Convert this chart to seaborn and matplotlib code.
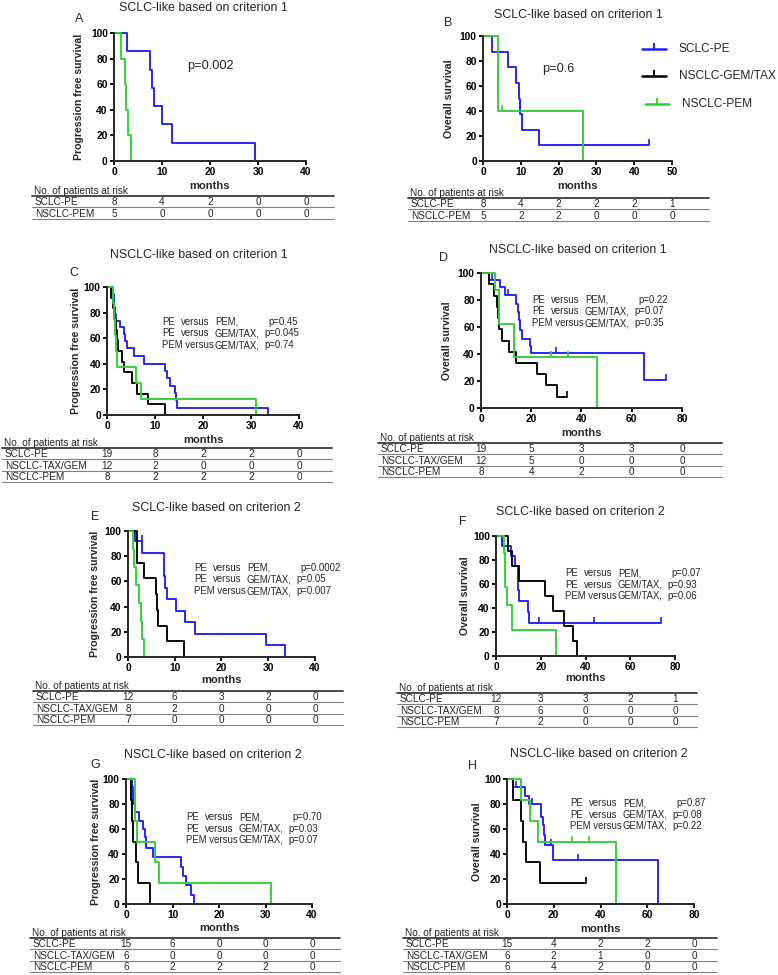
import numpy as np
import pandas as pd
import matplotlib
matplotlib.use('Agg')
import matplotlib.pyplot as plt
import seaborn as sns

# ---------------- data ----------------
# Panel A (PFS, SCLC-like criterion 1)
A_pe_t = [0, 2.7, 7.5, 7.9, 8.3, 10.1, 12.0, 29.4]
A_pe_s = [100, 85.7, 71.4, 57.1, 42.9, 28.6, 14.3, 0]
A_pem_t = [0, 1.4, 2.2, 2.4, 3.0, 3.5]
A_pem_s = [100, 80, 60, 40, 20, 0]

# Panel B (OS, SCLC-like criterion 1)
B_pe_t = [0, 2.5, 6.5, 8.6, 9.5, 9.8, 10.3, 14.8, 43.8]
B_pe_s = [100, 87.5, 75, 62.5, 50, 37.5, 25, 12.5, 12.5]
B_pe_ct = [43.8]; B_pe_cs = [12.5]
B_pem_t = [0, 3.9, 4.1, 26.5]
B_pem_s = [100, 80, 40, 0]
B_pem_ct = [5.0]; B_pem_cs = [40]

# Panel C (PFS, NSCLC-like criterion 1)
C_pe_t = [0, 1.2, 1.4, 1.5, 1.6, 1.8, 2.7, 3.5, 3.8, 4.2, 5.7, 7.8, 12.0, 12.4, 13.2, 14.1, 14.3, 14.5, 33.6]
C_pe_s = [100, 94.7, 89.5, 84.2, 78.9, 73.7, 68.4, 63.2, 57.9, 52.6, 46.0, 40.0, 34.5, 29.0, 23.0, 17.3, 11.5, 5.8, 0]
C_gem_t = [0, 0.9, 1.2, 1.5, 1.8, 2.0, 2.3, 3.2, 3.5, 5.2, 6.3, 8.5, 12.0]
C_gem_s = [100, 91.7, 83.3, 75, 66.7, 58.3, 50, 41.7, 33.3, 25, 16.7, 8.3, 0]
C_pem_t = [0, 1.2, 1.5, 1.7, 1.8, 2.0, 6.1, 7.0, 31.0]
C_pem_s = [100, 87.5, 75, 62.5, 50, 37.5, 25, 12.5, 0]

# Panel D (OS, NSCLC-like criterion 1)
D_pe_t = [0, 3.0, 7.6, 9.4, 14.1, 14.6, 15.2, 15.6, 16.2, 19.4, 20.0, 64.9, 73.5]
D_pe_s = [100, 94.7, 89.5, 83.5, 77.0, 71.0, 65.0, 58.0, 51.0, 45.6, 41.0, 20.5, 20.5]
D_pe_ct = [4.5, 10.6, 30.0, 73.5]; D_pe_cs = [94.7, 83.5, 41.0, 20.5]
D_gem_t = [0, 3.0, 5.0, 6.5, 6.9, 7.2, 8.4, 11.0, 14.1, 22.4, 25.7, 30.2, 34.2]
D_gem_s = [100, 91.7, 83.3, 75, 66.7, 58.3, 50, 41.7, 33.3, 25, 16.7, 8.3, 8.3]
D_gem_ct = [34.2]; D_gem_cs = [8.3]
D_pem_t = [0, 5.4, 7.0, 13.3, 46.2]
D_pem_s = [100, 87.5, 62.5, 37.5, 0]
D_pem_ct = [28.0, 34.6]; D_pem_cs = [37.5, 37.5]

# Panel E (PFS, SCLC-like criterion 2)
E_pe_t = [0, 1.4, 3.1, 7.6, 8.0, 8.4, 10.2, 12.1, 14.4, 29.5, 33.6]
E_pe_s = [100, 91.7, 82.5, 64.2, 55.0, 45.8, 36.7, 27.5, 18.3, 9.2, 0]
E_pe_ct = [2.9]; E_pe_cs = [91.7]
E_gem_t = [0, 1.9, 3.5, 5.9, 6.2, 6.4, 8.4, 12.0]
E_gem_s = [100, 75, 62.5, 50, 37.5, 25, 12.5, 0]
E_pem_t = [0, 1.0, 1.3, 1.7, 2.3, 2.7, 3.1, 3.5]
E_pem_s = [100, 85.7, 71.4, 57.1, 42.9, 28.6, 14.3, 0]

# Panel F (OS, SCLC-like criterion 2)
F_pe_t = [0, 2.5, 6.5, 8.5, 9.8, 10.4, 14.1, 14.9, 73.6]
F_pe_s = [100, 91.7, 83.3, 75, 55, 45.8, 36.7, 27.5, 27.5]
F_pe_ct = [19.0, 44.0, 73.6]; F_pe_cs = [27.5, 27.5, 27.5]
F_gem_t = [0, 5.5, 7.0, 10.4, 22.0, 25.4, 30.5, 34.3, 36.1]
F_gem_s = [100, 87.5, 75, 62.5, 50, 37.5, 25, 12.5, 0]
F_pem_t = [0, 3.6, 3.9, 5.1, 7.1, 26.6]
F_pem_s = [100, 85.7, 57.1, 42.9, 21.4, 0]

# Panel G (PFS, NSCLC-like criterion 2)
G_pe_t = [0, 1.2, 1.6, 1.9, 2.7, 3.7, 4.0, 4.3, 5.7, 11.8, 12.2, 12.8, 13.9, 14.6]
G_pe_s = [100, 93.3, 80, 73.3, 66.7, 60, 53.3, 45, 37.5, 30, 22.5, 15, 7.5, 0]
G_gem_t = [0, 1.0, 1.2, 1.5, 2.1, 2.6, 5.1]
G_gem_s = [100, 83.3, 66.7, 50, 33.3, 16.7, 0]
G_pem_t = [0, 2.0, 2.3, 6.2, 7.0, 31.1]
G_pem_s = [100, 66.7, 50, 33.3, 16.7, 0]

# Panel H (OS, NSCLC-like criterion 2)
H_pe_t = [0, 2.7, 7.8, 9.2, 14.7, 15.2, 15.8, 16.4, 19.8, 64.8]
H_pe_s = [100, 93.3, 86.7, 80, 70, 63, 55.5, 47.4, 35.5, 0]
H_pe_ct = [4.0, 10.8, 18.9, 30.2]; H_pe_cs = [93.3, 80, 47.4, 35.5]
H_gem_t = [0, 2.4, 5.8, 6.7, 8.0, 14.2, 34.0]
H_gem_s = [100, 83.3, 66.7, 50, 33.3, 16.7, 16.7]
H_gem_ct = [34.0]; H_gem_cs = [16.7]
H_pem_t = [0, 6.1, 9.8, 13.4, 46.5]
H_pem_s = [100, 83.3, 66.7, 50, 0]
H_pem_ct = [28.0, 34.9]; H_pem_cs = [50, 50]

# p-values / annotations
A_p = 'p=0.002'
B_p = 'p=0.6'
C_pvals = ['0.45', '0.045', '0.74']
D_pvals = ['0.22', '0.07', '0.35']
E_pvals = ['0.0002', '0.05', '0.007']
F_pvals = ['0.07', '0.93', '0.06']
G_pvals = ['0.70', '0.03', '0.07']
H_pvals = ['0.87', '0.08', '0.22']

# risk tables
labels2 = ['SCLC-PE', 'NSCLC-PEM']
labels3 = ['SCLC-PE', 'NSCLC-TAX/GEM', 'NSCLC-PEM']
A_risk = [[8, 4, 2, 0, 0], [5, 0, 0, 0, 0]]
B_risk = [[8, 4, 2, 2, 2, 1], [5, 2, 2, 0, 0, 0]]
C_risk = [[19, 8, 2, 2, 0], [12, 2, 0, 0, 0], [8, 2, 2, 2, 0]]
D_risk = [[19, 5, 3, 3, 0], [12, 5, 0, 0, 0], [8, 4, 2, 0, 0]]
E_risk = [[12, 6, 3, 2, 0], [8, 2, 0, 0, 0], [7, 0, 0, 0, 0]]
F_risk = [[12, 3, 3, 2, 1], [8, 6, 0, 0, 0], [7, 2, 0, 0, 0]]
G_risk = [[15, 6, 0, 0, 0], [6, 0, 0, 0, 0], [6, 2, 2, 2, 0]]
H_risk = [[15, 4, 2, 2, 0], [6, 2, 1, 0, 0], [6, 4, 2, 0, 0]]

legend_labels = ['SCLC-PE', 'NSCLC-GEM/TAX', 'NSCLC-PEM']

# ---------------- style ----------------
sns.set_theme(style='ticks')
plt.rcParams['font.family'] = ['Liberation Sans', 'DejaVu Sans']

BLUE = '#1e1eff'
BLACK = '#000000'
GREEN = '#33d033'

W, H = 778, 975
fig = plt.figure(figsize=(W / 100, H / 100), dpi=100)
fig.patch.set_facecolor('white')

ov = fig.add_axes([0, 0, 1, 1], zorder=-1)
ov.set_xlim(0, W)
ov.set_ylim(H, 0)
ov.axis('off')

TICK_FS = 7.4
LAB_FS = 7.6
TITLE_FS = 8.9
TAB_FS = 7.2
ANN_FS = 6.9


def make_ax(box, xmax, xstep, ylabel, label_off, xlab_off):
    l, t, r, b = box
    ax = fig.add_axes([l / W, 1 - b / H, (r - l) / W, (b - t) / H])
    ax.set_facecolor('none')
    ax.set_xlim(0, xmax)
    ax.set_ylim(0, 100)
    ax.set_xticks(np.arange(0, xmax + 1, xstep))
    ax.set_yticks(np.arange(0, 101, 20))
    sns.despine(ax=ax)
    for sp in ('left', 'bottom'):
        ax.spines[sp].set_linewidth(1.4)
    ax.tick_params(length=3, width=1.3, labelsize=TICK_FS, pad=1.5, colors='black')
    for lbl in ax.get_xticklabels() + ax.get_yticklabels():
        lbl.set_fontweight('bold')
    ax.set_xlabel('months', fontsize=LAB_FS + 0.4, fontweight='bold')
    ax.set_ylabel(ylabel, fontsize=LAB_FS, fontweight='bold')
    ax.xaxis.label.set_verticalalignment('center')
    ax.yaxis.label.set_verticalalignment('center')
    ax.yaxis.set_label_coords(-label_off / (r - l), 0.5)
    ax.xaxis.set_label_coords(0.5, -xlab_off / (b - t))
    return ax


def km(ax, t, s, color, ct=None, cs=None):
    df = pd.DataFrame({'months': t, 'surv': s})
    sns.lineplot(data=df, x='months', y='surv', ax=ax, color=color, drawstyle='steps-post',
                 estimator=None, sort=False, lw=1.35, clip_on=False)
    if ct:
        ax.plot(ct, cs, ls='none', marker=2, ms=4, mew=1.2, color=color, clip_on=False)


def finish_labels(ax, ylabel):
    ax.set_xlabel('months', fontsize=LAB_FS + 0.4, fontweight='bold')
    ax.set_ylabel(ylabel, fontsize=LAB_FS, fontweight='bold')


def annot(x, y, pvals):
    seconds = ['PEM,', 'GEM/TAX,', 'GEM/TAX,']
    kw = dict(fontsize=ANN_FS, va='center', ha='left')
    for i in range(3):
        yy = y + 11.5 * i
        if i < 2:
            ov.text(x, yy, 'PE', **kw)
            ov.text(x + 18.5, yy, 'versus', **kw)
        else:
            ov.text(x, yy, 'PEM versus', **kw)
        ov.text(x + 53, yy, seconds[i], **kw)
        ov.text(x + (106 if i == 0 else 102), yy, 'p=' + pvals[i], **kw)


def risk_table(box, xmax, xstep, x_left, x_right, header_y, labels, rows):
    l, t, r, b = box
    ticks = np.arange(0, xmax + 1, xstep)
    cols = [l + v / xmax * (r - l) for v in ticks]
    ov.text(x_left + 2, header_y, 'No. of patients at risk', fontsize=TAB_FS, va='center', ha='left')
    thick = header_y + 5
    ov.plot([x_left, x_right], [thick, thick], color='#3a3a3a', lw=1.3)
    for i, (lab, vals) in enumerate(zip(labels, rows)):
        ry = thick + 6.2 + 11.4 * i
        ov.text(x_left + 3, ry, lab, fontsize=TAB_FS, va='center', ha='left')
        for cx, v in zip(cols, vals):
            ov.text(cx, ry, str(v), fontsize=TAB_FS, va='center', ha='center')
        ly = thick + 11.4 * (i + 1)
        ov.plot([x_left, x_right], [ly, ly], color='#808080', lw=0.8)


PFS = 'Progression free survival'
OS = 'Overall survival'

# ---- A ----
boxA = (114, 33, 306, 161)
axA = make_ax(boxA, 40, 10, PFS, 35, 25)
km(axA, A_pe_t, A_pe_s, BLUE)
km(axA, A_pem_t, A_pem_s, GREEN)
finish_labels(axA, PFS)
ov.text(203, 8, 'SCLC-like based on criterion 1', fontsize=TITLE_FS, ha='center', va='center')
ov.text(79, 19, 'A', fontsize=9, ha='center', va='center')
ov.text(187, 66, A_p, fontsize=9.2, ha='left', va='center')
risk_table(boxA, 40, 10, 32, 334, 191, labels2, A_risk)

# ---- B ----
boxB = (483, 36, 672, 161)
axB = make_ax(boxB, 50, 10, OS, 34, 25)
km(axB, B_pe_t, B_pe_s, BLUE, B_pe_ct, B_pe_cs)
km(axB, B_pem_t, B_pem_s, GREEN, B_pem_ct, B_pem_cs)
finish_labels(axB, OS)
ov.text(578, 15, 'SCLC-like based on criterion 1', fontsize=TITLE_FS, ha='center', va='center')
ov.text(448, 23, 'B', fontsize=9, ha='center', va='center')
ov.text(542, 69, B_p, fontsize=9.2, ha='left', va='center')
risk_table(boxB, 50, 10, 408, 709, 193, labels2, B_risk)
# legend
for (lab, col, ly, x0) in zip(legend_labels, [BLUE, BLACK, GREEN], [49, 76, 104], [642, 642, 645]):
    ov.plot([x0, x0 + 24], [ly, ly], color=col, lw=1.8)
    ov.plot([x0 + 12], [ly], marker=2, ms=4, mew=1.4, color=col, ls='none')
    ov.text(x0 + 37, ly, lab, fontsize=8.6, ha='left', va='center')

# ---- C ----
boxC = (107, 287, 299, 415)
axC = make_ax(boxC, 40, 10, PFS, 31, 25)
km(axC, C_pe_t, C_pe_s, BLUE)
km(axC, C_gem_t, C_gem_s, BLACK)
km(axC, C_pem_t, C_pem_s, GREEN)
finish_labels(axC, PFS)
ov.text(199, 255, 'NSCLC-like based on criterion 1', fontsize=TITLE_FS, ha='center', va='center')
ov.text(74, 273, 'C', fontsize=9, ha='center', va='center')
annot(162, 322, C_pvals)
risk_table(boxC, 40, 10, 2, 332, 443, labels3, C_risk)

# ---- D ----
boxD = (481, 273, 682, 408)
axD = make_ax(boxD, 80, 20, OS, 34, 25)
km(axD, D_pe_t, D_pe_s, BLUE, D_pe_ct, D_pe_cs)
km(axD, D_gem_t, D_gem_s, BLACK, D_gem_ct, D_gem_cs)
km(axD, D_pem_t, D_pem_s, GREEN, D_pem_ct, D_pem_cs)
finish_labels(axD, OS)
ov.text(578, 250, 'NSCLC-like based on criterion 1', fontsize=TITLE_FS, ha='center', va='center')
ov.text(444, 258, 'D', fontsize=9, ha='center', va='center')
annot(532, 300, D_pvals)
risk_table(boxD, 80, 20, 378, 722, 438, labels3, D_risk)

# ---- E ----
boxE = (128, 531, 315, 657)
axE = make_ax(boxE, 40, 10, PFS, 33, 23)
km(axE, E_pe_t, E_pe_s, BLUE, E_pe_ct, E_pe_cs)
km(axE, E_gem_t, E_gem_s, BLACK)
km(axE, E_pem_t, E_pem_s, GREEN)
finish_labels(axE, PFS)
ov.text(216, 508, 'SCLC-like based on criterion 2', fontsize=TITLE_FS, ha='center', va='center')
ov.text(95, 517, 'E', fontsize=9, ha='center', va='center')
annot(194, 568, E_pvals)
risk_table(boxE, 40, 10, 33, 343, 686, labels3, E_risk)

# ---- F ----
boxF = (496, 536, 675, 656)
axF = make_ax(boxF, 80, 20, OS, 31, 22)
km(axF, F_pe_t, F_pe_s, BLUE, F_pe_ct, F_pe_cs)
km(axF, F_gem_t, F_gem_s, BLACK)
km(axF, F_pem_t, F_pem_s, GREEN)
finish_labels(axF, OS)
ov.text(580, 512, 'SCLC-like based on criterion 2', fontsize=TITLE_FS, ha='center', va='center')
ov.text(463, 522, 'F', fontsize=9, ha='center', va='center')
annot(565, 573, F_pvals)
risk_table(boxF, 80, 20, 397, 697, 688, labels3, F_risk)

# ---- G ----
boxG = (126, 779, 312, 904)
axG = make_ax(boxG, 40, 10, PFS, 30, 24)
km(axG, G_pe_t, G_pe_s, BLUE)
km(axG, G_gem_t, G_gem_s, BLACK)
km(axG, G_pem_t, G_pem_s, GREEN)
finish_labels(axG, PFS)
ov.text(213, 755, 'NSCLC-like based on criterion 2', fontsize=TITLE_FS, ha='center', va='center')
ov.text(95, 765, 'G', fontsize=9, ha='center', va='center')
annot(186, 817, G_pvals)
risk_table(boxG, 40, 10, 30, 340, 933, labels3, G_risk)

# ---- H ----
boxH = (507, 779, 694, 904)
axH = make_ax(boxH, 80, 20, OS, 30, 25)
km(axH, H_pe_t, H_pe_s, BLUE, H_pe_ct, H_pe_cs)
km(axH, H_gem_t, H_gem_s, BLACK, H_gem_ct, H_gem_cs)
km(axH, H_pem_t, H_pem_s, GREEN, H_pem_ct, H_pem_cs)
finish_labels(axH, OS)
ov.text(599, 754, 'NSCLC-like based on criterion 2', fontsize=TITLE_FS, ha='center', va='center')
ov.text(473, 766, 'H', fontsize=9, ha='center', va='center')
annot(570, 803, H_pvals)
risk_table(boxH, 80, 20, 403, 717, 933, labels3, H_risk)

for ax in (axA, axB, axC, axD, axE, axF, axG, axH):
    lg = ax.get_legend()
    if lg is not None:
        lg.remove()

fig.savefig('out.png', dpi=100, facecolor='white')
